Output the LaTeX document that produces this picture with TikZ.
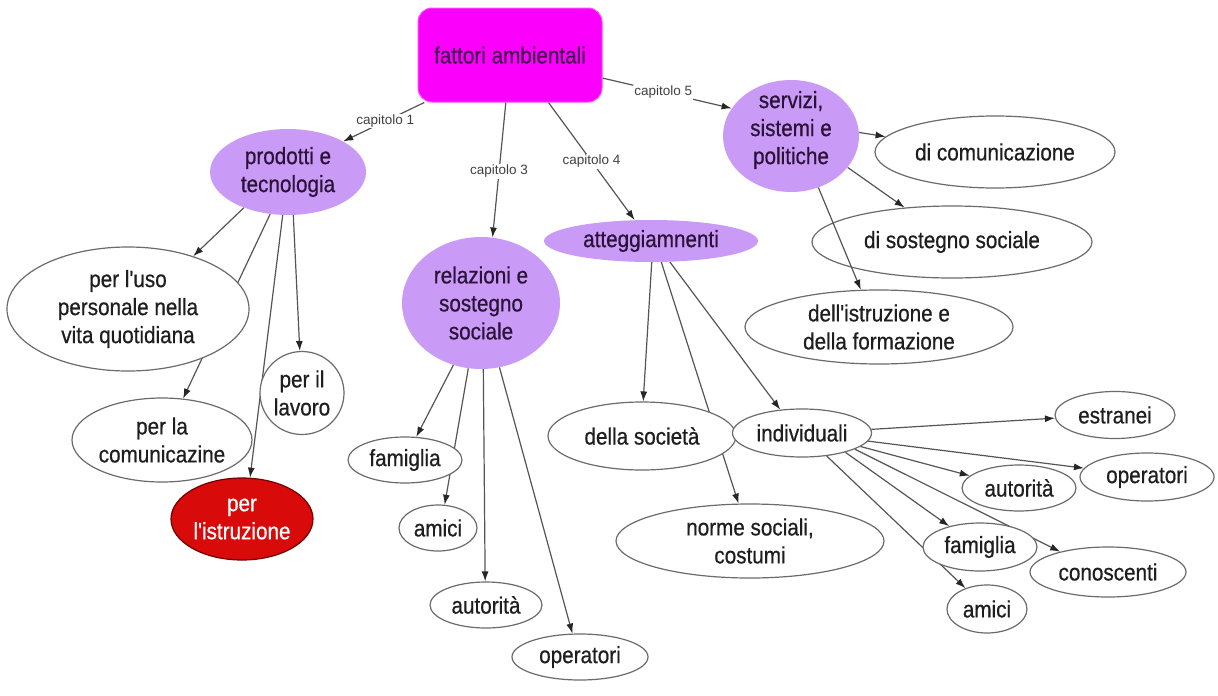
\documentclass[tikz,border=0pt]{standalone}
\usepackage{fontspec}
\setmainfont{Liberation Sans}
\newfontfamily\nodefont{Liberation Sans}[FakeStretch=0.88, FakeBold=0.6]
\usetikzlibrary{shapes.geometric,arrows.meta,backgrounds}
\pgfdeclarelayer{bglow}
\pgfsetlayers{bglow,background,main}
\definecolor{lav}{HTML}{C99BF7}
\definecolor{mag}{HTML}{FB00FB}
\definecolor{redn}{HTML}{D80A0A}
\definecolor{txt}{HTML}{1E1E1E}
\definecolor{ptxt}{HTML}{2A1238}
\definecolor{edgec}{HTML}{555555}
\tikzset{
  sz/.style 2 args={minimum width=#1pt, minimum height=#2pt},
  wn/.style={ellipse, draw=black!58, line width=1.2pt, fill=white, inner sep=0pt},
  pn/.style={ellipse, fill=lav, inner sep=0pt},
  rn/.style={ellipse, fill=redn, draw=red!45!black, line width=1.2pt, inner sep=0pt},
  tx/.style={align=center, font=\nodefont\fontsize{23.5}{28}\selectfont, text=txt, inner sep=0pt},
  ptx/.style={tx, text=ptxt},
  rtx/.style={tx, text=white},
  ed/.style={draw=edgec, line width=1.2pt, -{Latex[length=10pt,width=7pt,color=black!85]}},
  caplbl/.style={fill=white, inner sep=1pt, font=\fontsize{13.5}{15}\selectfont, text=black!75}
}
\begin{document}
\begin{tikzpicture}[x=1pt,y=-1pt]
\begin{pgfonlayer}{bglow}
\fill[white] (0,0) rectangle (1218,696);
\end{pgfonlayer}
\path[use as bounding box] (0,0) rectangle (1218,696);

% top node
\node[rectangle, rounded corners=14pt, fill=mag, draw=mag!70, line width=1pt, sz={184}{94}, inner sep=0pt,
      font=\nodefont\fontsize{23.5}{28}\selectfont, text=ptxt!85!mag] (fat) at (510,55) {fattori ambientali};

% purple nodes
\node[pn, sz={156}{86}, label={[ptx]center:{prodotti e\\tecnologia}}] (prod) at (288,172) {};
\node[pn, sz={158}{132}, label={[ptx]center:{relazioni e\\sostegno\\sociale}}] (rel) at (481,303) {};
\node[pn, sz={214}{42}, label={[ptx]center:{atteggiamnenti}}] (att) at (651,241) {};
\node[pn, sz={136}{112}, label={[ptx, yshift=6pt]center:{servizi,\\sistemi e\\politiche}}] (serv) at (791,136) {};

% capitolo 1 children
\node[wn, sz={242}{124}, label={[tx]center:{per l'uso\\personale nella\\vita quotidiana}}] (uso) at (128,309) {};
\node[wn, sz={84}{83}, label={[tx]center:{per il\\lavoro}}] (lav) at (302,393) {};
\node[wn, sz={180}{84}, label={[tx]center:{per la\\comunicazine}}] (com) at (162,440) {};
\node[rn, sz={142}{82}, label={[rtx]center:{per\\l'istruzione}}] (istr) at (242,519) {};

% capitolo 3 children
\node[wn, sz={114}{46}, label={[tx]center:{famiglia}}] (fam) at (405,460) {};
\node[wn, sz={78}{46}, label={[tx]center:{amici}}] (ami) at (438,528) {};
\node[wn, sz={112}{46}, label={[tx]center:{autorità}}] (aut) at (486,605) {};
\node[wn, sz={136}{46}, label={[tx]center:{operatori}}] (ope) at (580,657) {};

% capitolo 4 children
\node[wn, sz={188}{68}, label={[tx]center:{della società}}] (soc) at (642,436) {};
\node[wn, sz={268}{74}, label={[tx]center:{norme sociali,\\costumi}}] (nor) at (750,541) {};
\node[wn, sz={139}{48}, label={[tx]center:{individuali}}] (ind) at (802,433) {};
\node[wn, sz={120}{47}, label={[tx]center:{estranei}}] (est) at (1115,415) {};
\node[wn, sz={134}{48}, label={[tx]center:{operatori}}] (opr) at (1147,477) {};
\node[wn, sz={114}{46}, label={[tx]center:{autorità}}] (autr) at (1019,488) {};
\node[wn, sz={114}{48}, label={[tx]center:{famiglia}}] (famr) at (980,547) {};
\node[wn, sz={156}{50}, label={[tx]center:{conoscenti}}] (con) at (1108,572) {};
\node[wn, sz={80}{48}, label={[tx]center:{amici}}] (amr) at (987,609) {};

% capitolo 5 children
\node[wn, sz={240}{72}, label={[tx]center:{di comunicazione}}] (dcom) at (995,152) {};
\node[wn, sz={280}{72}, label={[tx]center:{di sostegno sociale}}] (dsos) at (952,242) {};
\node[wn, sz={268}{74}, label={[tx]center:{dell'istruzione e\\della formazione}}] (dist) at (879,327) {};

\begin{pgfonlayer}{background}
  \draw[ed] (fat.209) -- node[caplbl, pos=0.48] (c1) {capitolo 1} (prod.29);
  \draw[ed] (fat.265) -- node[caplbl, pos=0.51] (c3) {capitolo 3} (rel.80);
  \draw[ed] (fat.309) -- node[caplbl, pos=0.5] (c4) {capitolo 4} (att.128);
  \draw[ed] (fat.346) -- node[caplbl, pos=0.47] (c5) {capitolo 5} (serv.155);

  \draw[ed] (prod.219) -- (uso.39);
  \draw[ed] (prod.247) -- (com.63);
  \draw[ed] (prod.263) -- (istr.79);
  \draw[ed] (prod.277) -- (lav.93);

  \draw[ed] (rel.246) -- (fam.64);
  \draw[ed] (rel.259) -- (ami.74);
  \draw[ed] (rel.272) -- (aut.92);
  \draw[ed] (rel.286) -- (ope.108);

  \draw[ed] (att.272) -- (soc.88);
  \draw[ed] (att.296) -- (nor.107);
  \draw[ed] (att.312) -- (ind.133);

  \draw[ed] (serv.3) -- (dcom.172);
  \draw[ed] (serv.331) -- (dsos.144);

  \draw[ed] (ind.3) -- (est.183);
  \draw[ed] (ind.353) -- (opr.172);
  \draw[ed] (ind.347) -- (autr.166);
  \draw[ed] (ind.336) -- (famr.146);
  \draw[ed] (ind.343) -- (con.157);
  \draw[ed] (ind.317) -- (amr.136);
\end{pgfonlayer}

\draw[ed] (serv.298) -- (dist.116);
\end{tikzpicture}
\end{document}
